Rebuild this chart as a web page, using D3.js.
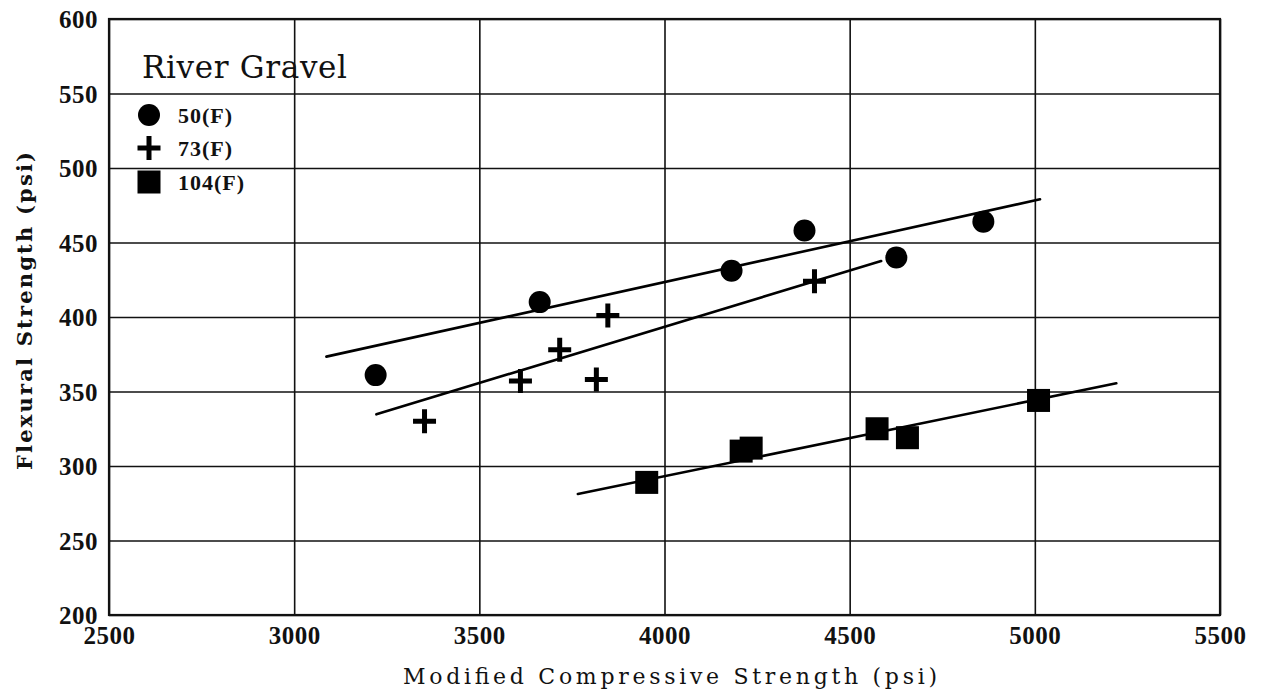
<!DOCTYPE html>
<html>
<head>
<meta charset="utf-8">
<script src="https://cdn.jsdelivr.net/npm/d3@7"></script>
<style>
  html, body { margin: 0; padding: 0; background: #fff; }
  svg { display: block; }
</style>
</head>
<body>
<svg id="chart" width="1263" height="697"></svg>
<script>
// Axis ticks
const xTicks = [2500, 3000, 3500, 4000, 4500, 5000, 5500];
const yTicks = [200, 250, 300, 350, 400, 450, 500, 550, 600];

// Legend entries
const seriesNames = ["50(F)", "73(F)", "104(F)"];

// 50 °F test series
const comp50 = [3220, 3663, 4181, 4378, 4626, 4861];
const flex50 = [361, 410, 431, 458, 440, 464];
// 73 °F test series
const comp73 = [3352, 3611, 3717, 3816, 3847, 4405];
const flex73 = [330, 357, 378, 358, 401, 424];
// 104 °F test series
const comp104 = [3952, 4207, 4234, 4574, 4656, 5010];
const flex104 = [289, 310, 312, 325, 319, 344];

// Trend line end points [compressive, flexural]
const fit50 = [[3087, 373.4], [5014, 479]];
const fit73 = [[3222, 334.7], [4585, 437.6]];
const fit104 = [[3766, 281.2], [5220, 355.5]];

const svg = d3.select("#chart");
const plotL = 109, plotR = 1220, plotT = 19, plotB = 615;

const x = d3.scaleLinear().domain([2500, 5500]).range([plotL, plotR]);
const y = d3.scaleLinear().domain([200, 600]).range([plotB, plotT]);

const tickFont = "'Liberation Serif', 'Times New Roman', serif";

// Grid + tick labels
const xAxis = svg.append("g")
  .attr("transform", `translate(0,${plotB})`)
  .call(d3.axisBottom(x).tickValues(xTicks).tickFormat(d3.format("d"))
    .tickSize(-(plotB - plotT)).tickPadding(11));
const yAxis = svg.append("g")
  .attr("transform", `translate(${plotL},0)`)
  .call(d3.axisLeft(y).tickValues(yTicks).tickFormat(d3.format("d"))
    .tickSize(-(plotR - plotL)).tickPadding(11));

[xAxis, yAxis].forEach(g => {
  g.select(".domain").remove();
  g.selectAll(".tick line").attr("stroke", "#111").attr("stroke-width", 1.6);
  g.selectAll(".tick text")
    .attr("fill", "#111")
    .style("font-family", tickFont)
    .style("font-weight", "bold")
    .style("font-size", "25px")
    .style("letter-spacing", "0.5px");
});
yAxis.selectAll(".tick text").attr("dy", "0.34em");

// Frame
svg.append("rect")
  .attr("x", plotL).attr("y", plotT)
  .attr("width", plotR - plotL).attr("height", plotB - plotT)
  .attr("fill", "none").attr("stroke", "#111").attr("stroke-width", 2.2);

// Trend lines
const line = d3.line().x(d => x(d[0])).y(d => y(d[1]));
[fit50, fit73, fit104].forEach(f => {
  svg.append("path").attr("d", line(f))
    .attr("fill", "none").attr("stroke", "#000")
    .attr("stroke-width", 2.6).attr("stroke-linecap", "round");
});

// Marker drawers
function circle(g, cx, cy) {
  g.append("circle").attr("cx", cx).attr("cy", cy).attr("r", 11).attr("fill", "#000");
}
function plus(g, cx, cy) {
  g.append("path")
    .attr("d", `M${cx - 11.5},${cy}H${cx + 11.5}M${cx},${cy - 12}V${cy + 12}`)
    .attr("stroke", "#000").attr("stroke-width", 5).attr("fill", "none");
}
function square(g, cx, cy) {
  g.append("rect").attr("x", cx - 11.5).attr("y", cy - 11.5)
    .attr("width", 23).attr("height", 23).attr("fill", "#000");
}

const marks = svg.append("g");
comp50.forEach((c, i) => circle(marks, x(c), y(flex50[i])));
comp73.forEach((c, i) => plus(marks, x(c), y(flex73[i])));
comp104.forEach((c, i) => square(marks, x(c), y(flex104[i])));

// Panel title
svg.append("text")
  .attr("x", 142).attr("y", 78)
  .attr("textLength", 205).attr("lengthAdjust", "spacing")
  .style("font-family", "'DejaVu Serif', serif")
  .style("font-size", "31px")
  .attr("fill", "#111")
  .text("River  Gravel");

// Legend
const legend = svg.append("g");
const legendY = [115, 148, 182];
const drawers = [circle, plus, square];
seriesNames.forEach((name, i) => {
  drawers[i](legend, 149, legendY[i]);
  legend.append("text")
    .attr("x", 178).attr("y", legendY[i]).attr("dy", "0.35em")
    .style("font-family", tickFont)
    .style("font-weight", "bold")
    .style("font-size", "22px")
    .style("letter-spacing", "1px")
    .attr("fill", "#111")
    .text(name);
});

// Axis titles
svg.append("text")
  .attr("x", 403).attr("y", 684)
  .attr("textLength", 534).attr("lengthAdjust", "spacing")
  .style("font-family", "'DejaVu Serif', serif")
  .style("font-size", "22px")
  .attr("fill", "#111")
  .text("Modified Compressive Strength (psi)");

svg.append("text")
  .attr("transform", "translate(32,470) rotate(-90)")
  .attr("x", 0).attr("y", 0)
  .attr("textLength", 318).attr("lengthAdjust", "spacing")
  .style("font-family", "'DejaVu Serif', serif")
  .style("font-weight", "bold")
  .style("font-size", "21px")
  .attr("fill", "#111")
  .text("Flexural Strength (psi)");
</script>
</body>
</html>
